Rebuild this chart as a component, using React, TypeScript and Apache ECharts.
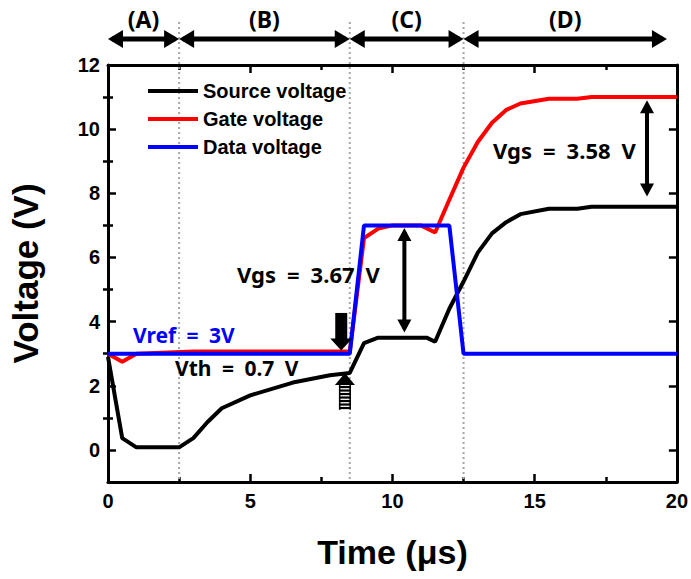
import React, { useEffect, useRef } from "react";
import * as echarts from "echarts";

// Source (black) node voltage vs time
const sourceTime = [0, 0.5, 1, 2.5, 3, 3.5, 4, 5, 6.5, 7.8, 8.5, 9, 9.5, 11.2, 11.5, 12, 12.5, 13, 13.5, 14, 14.5, 15.5, 16.5, 17, 20];
const sourceVoltage = [2.9, 0.37, 0.08, 0.08, 0.37, 0.87, 1.3, 1.7, 2.1, 2.33, 2.4, 3.33, 3.5, 3.5, 3.37, 4.4, 5.25, 6.15, 6.75, 7.1, 7.35, 7.52, 7.52, 7.58, 7.58];

// Gate (red) node voltage vs time
const gateTime = [0, 0.5, 1, 3, 8.5, 9, 9.5, 10, 11, 11.5, 12, 12.5, 13, 13.5, 14, 14.5, 15.5, 16.5, 17, 20];
const gateVoltage = [3.0, 2.75, 3.0, 3.07, 3.07, 6.6, 6.9, 7.0, 7.0, 6.78, 7.8, 8.8, 9.6, 10.2, 10.6, 10.8, 10.95, 10.95, 11.0, 11.0];

// Data line (blue) voltage vs time
const dataTime = [0, 8.5, 9, 12, 12.5, 20];
const dataVoltage = [3, 3, 7, 7, 3, 3];

// Operating phases along the time axis
const phaseBounds = [0, 2.5, 8.5, 12.5, 19.65];
const phaseLabels = ["(A)", "(B)", "(C)", "(D)"];

const yMajorTicks = [0, 2, 4, 6, 8, 10, 12];
const yMinorTicks = [1, 3, 5, 7, 9, 11];

// Vgs double arrows: time, upper voltage, lower voltage
const vgsArrows = [
  { t: 10.42, hi: 6.92, lo: 3.66 },
  { t: 18.95, hi: 10.9, lo: 7.9 },
];

const zip = (xs: number[], ys: number[]) => xs.map((x, i) => [x, ys[i]]);

const TICK_FONT = "Liberation Sans";
const NOTE_FONT = "Noto Sans";
const SP = "\u2002"; // wide word gap used in the annotations

export default function App() {
  const ref = useRef<HTMLDivElement>(null);

  useEffect(() => {
    const chart = echarts.init(ref.current!, null, { renderer: "svg" });

    const axisLine = { show: true, onZero: false, lineStyle: { color: "#000", width: 3 } };
    const tickStyle = { color: "#000", width: 2.5 };
    const labelStyle = { fontFamily: TICK_FONT, fontWeight: "bold", fontSize: 20, color: "#000" };

    const xCommon = {
      type: "value",
      min: 0,
      max: 20,
      interval: 5,
      splitLine: { show: false },
      axisLine,
      axisTick: { show: true, inside: true, length: 8, lineStyle: tickStyle },
      minorTick: { show: true, splitNumber: 2, length: 5, lineStyle: tickStyle },
    };

    const yAxis = (position: string, ticks: number[], len: number, labels: boolean, line: boolean) => ({
      type: "value",
      position,
      min: -1,
      max: 12,
      splitLine: { show: false },
      axisLine: line ? axisLine : { show: false },
      axisTick: { show: true, inside: true, length: len, lineStyle: tickStyle, customValues: ticks },
      axisLabel: labels
        ? { show: true, customValues: yMajorTicks, margin: 8, ...labelStyle }
        : { show: false },
    });

    const lineSeries = (name: string, color: string, data: number[][]) => ({
      name,
      type: "line",
      data,
      xAxisIndex: 0,
      yAxisIndex: 0,
      symbol: "none",
      showSymbol: false,
      lineStyle: { color, width: 4 },
      itemStyle: { color },
      z: 3,
    });

    chart.setOption({
      animation: false,
      backgroundColor: "#fff",
      grid: { left: 108, right: 13, top: 65, bottom: 97, containLabel: false },
      xAxis: [
        {
          ...xCommon,
          position: "bottom",
          axisLabel: { show: true, margin: 9, ...labelStyle },
          name: "Time (μs)",
          nameLocation: "middle",
          nameGap: 53,
          nameTextStyle: { fontFamily: TICK_FONT, fontWeight: "bold", fontSize: 34, color: "#000" },
        },
        { ...xCommon, position: "top", axisLabel: { show: false } },
      ],
      yAxis: [
        {
          ...yAxis("left", yMajorTicks, 8, true, true),
          name: "Voltage (V)",
          nameLocation: "middle",
          nameGap: 65,
          nameTextStyle: { fontFamily: TICK_FONT, fontWeight: "bold", fontSize: 35, color: "#000" },
        },
        yAxis("left", yMinorTicks, 5, false, false),
        yAxis("right", yMajorTicks, 8, false, true),
        yAxis("right", yMinorTicks, 5, false, false),
      ],
      legend: {
        data: ["Source voltage", "Gate voltage", "Data voltage"],
        orient: "vertical",
        left: 143,
        top: 76,
        icon: "rect",
        itemWidth: 50,
        itemHeight: 4,
        itemGap: 8,
        textStyle: { fontFamily: TICK_FONT, fontWeight: "bold", fontSize: 20, color: "#000", lineHeight: 20 },
      },
      series: [
        lineSeries("Source voltage", "#000000", zip(sourceTime, sourceVoltage)),
        lineSeries("Gate voltage", "#ff0000", zip(gateTime, gateVoltage)),
        lineSeries("Data voltage", "#0000ff", zip(dataTime, dataVoltage)),
      ],
    });

    const toPx = (x: number, y: number) =>
      chart.convertToPixel({ xAxisIndex: 0, yAxisIndex: 0 }, [x, y]) as number[];

    const g: any[] = [];
    const bottomY = toPx(0, -1)[1];

    // phase boundaries
    phaseBounds.slice(1, 4).forEach((b) => {
      const bx = toPx(b, 0)[0];
      g.push({
        type: "line",
        z: 1,
        shape: { x1: bx, y1: 22, x2: bx, y2: bottomY },
        style: { stroke: "#a6a6a6", lineWidth: 2, lineDash: [2, 3] },
      });
    });

    const head = 15;
    const half = 9;
    // phase span arrows along the top
    const arrowY = 39;
    phaseLabels.forEach((lab, i) => {
      const x1 = toPx(phaseBounds[i], 0)[0];
      const x2 = toPx(phaseBounds[i + 1], 0)[0];
      g.push({
        type: "line",
        z: 50,
        shape: { x1: x1 + 4, y1: arrowY, x2: x2 - 4, y2: arrowY },
        style: { stroke: "#000", lineWidth: 5 },
      });
      g.push({
        type: "polygon",
        z: 50,
        shape: { points: [[x1, arrowY], [x1 + head, arrowY - half], [x1 + head, arrowY + half]] },
        style: { fill: "#000" },
      });
      g.push({
        type: "polygon",
        z: 50,
        shape: { points: [[x2, arrowY], [x2 - head, arrowY - half], [x2 - head, arrowY + half]] },
        style: { fill: "#000" },
      });
      g.push({
        type: "text",
        z: 50,
        style: {
          text: lab,
          x: (x1 + x2) / 2,
          y: 19,
          align: "center",
          verticalAlign: "middle",
          fontFamily: NOTE_FONT,
          fontWeight: "bold",
          fontSize: 23,
          fill: "#000",
        },
      });
    });

    // vertical Vgs arrows
    vgsArrows.forEach((a) => {
      const [ax, ay1] = toPx(a.t, a.hi);
      const ay2 = toPx(a.t, a.lo)[1];
      const vh = 13;
      const vw = 7;
      g.push({
        type: "line",
        z: 50,
        shape: { x1: ax, y1: ay1 + 4, x2: ax, y2: ay2 - 4 },
        style: { stroke: "#000", lineWidth: 4 },
      });
      g.push({
        type: "polygon",
        z: 50,
        shape: { points: [[ax, ay1], [ax - vw, ay1 + vh], [ax + vw, ay1 + vh]] },
        style: { fill: "#000" },
      });
      g.push({
        type: "polygon",
        z: 50,
        shape: { points: [[ax, ay2], [ax - vw, ay2 - vh], [ax + vw, ay2 - vh]] },
        style: { fill: "#000" },
      });
    });

    // block arrow pointing down onto the gate level
    {
      const [dx, dTop] = toPx(8.2, 4.27);
      const dTip = toPx(8.2, 3.1)[1];
      const hh = 12;
      g.push({
        type: "rect",
        z: 50,
        shape: { x: dx - 6, y: dTop, width: 12, height: dTip - hh - dTop + 1 },
        style: { fill: "#000" },
      });
      g.push({
        type: "polygon",
        z: 50,
        shape: { points: [[dx - 11, dTip - hh], [dx + 11, dTip - hh], [dx, dTip]] },
        style: { fill: "#000" },
      });
    }

    // hatched arrow pointing up onto the source level
    {
      const [ux, uTip] = toPx(8.33, 2.4);
      const uBottom = toPx(8.33, 1.25)[1];
      const hh = 12;
      g.push({
        type: "polygon",
        z: 50,
        shape: { points: [[ux - 10, uTip + hh], [ux + 10, uTip + hh], [ux, uTip]] },
        style: { fill: "#000" },
      });
      for (let y = uTip + hh + 1; y < uBottom; y += 3.5) {
        g.push({
          type: "rect",
          z: 50,
          shape: { x: ux - 6, y, width: 12, height: 2.2 },
          style: { fill: "#000" },
        });
      }
      g.push({
        type: "rect",
        z: 49,
        shape: { x: ux - 6, y: uTip + hh, width: 1.5, height: uBottom - uTip - hh },
        style: { fill: "#000" },
      });
      g.push({
        type: "rect",
        z: 49,
        shape: { x: ux + 4.5, y: uTip + hh, width: 1.5, height: uBottom - uTip - hh },
        style: { fill: "#000" },
      });
    }

    const note = (text: string, x: number, y: number, size: number, fill = "#000") => ({
      type: "text",
      z: 60,
      style: {
        text,
        x,
        y,
        align: "left",
        verticalAlign: "middle",
        fontFamily: NOTE_FONT,
        fontWeight: "bold",
        fontSize: size,
        fill,
      },
    });
    g.push(note(`Vref${SP}=${SP}3V`, 133, 335, 21, "#0000ff"));
    g.push(note(`Vth${SP}=${SP}0.7${SP}V`, 175, 368, 21));
    g.push(note(`Vgs${SP}=${SP}3.67${SP}V`, 237, 274, 22));
    g.push(note(`Vgs${SP}=${SP}3.58${SP}V`, 493, 150, 22));

    chart.setOption({ graphic: g });

    return () => chart.dispose();
  }, []);

  return (
    <div
      ref={ref}
      style={{ position: "fixed", left: 0, top: 0, width: 691, height: 579, background: "#fff" }}
    />
  );
}
